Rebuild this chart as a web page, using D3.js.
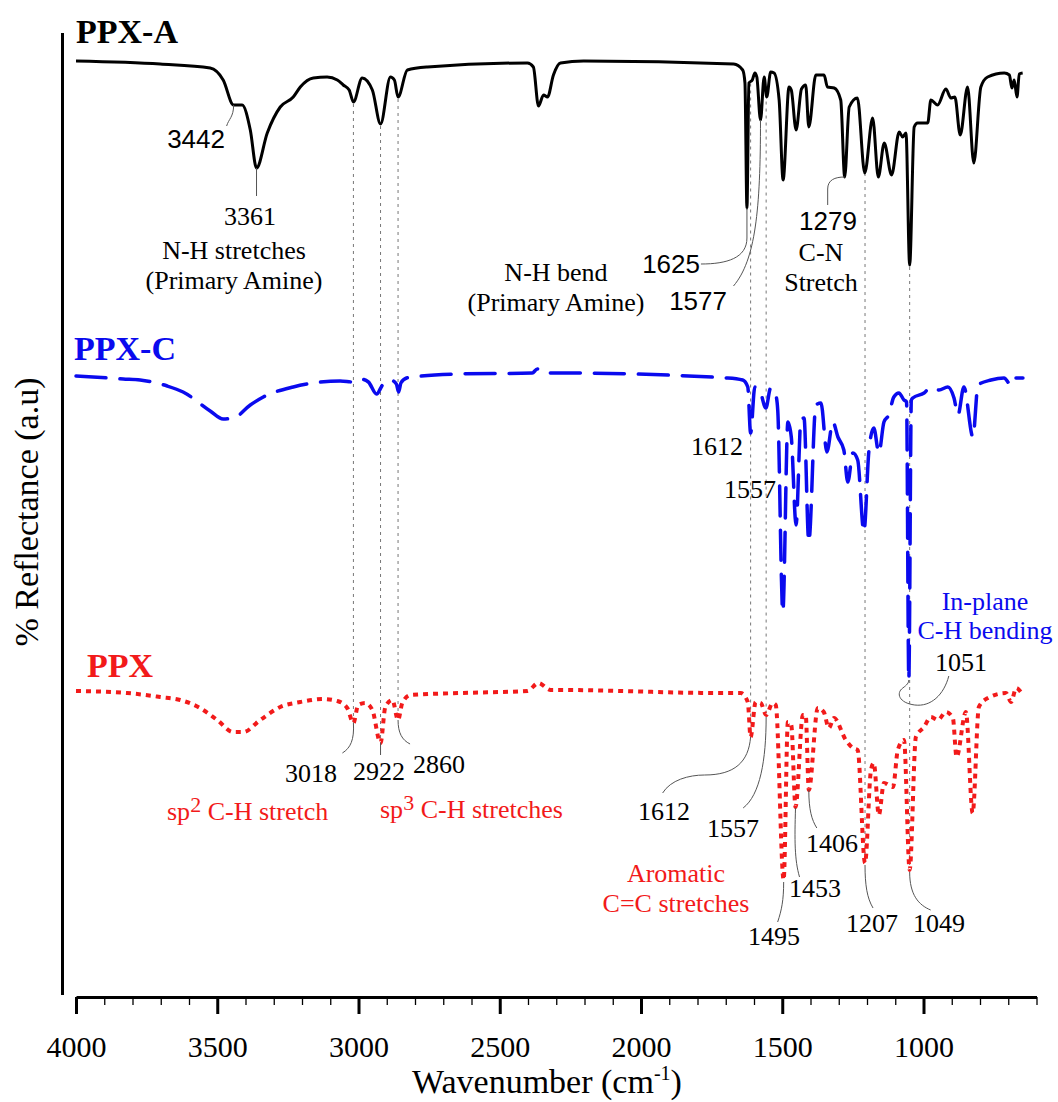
<!DOCTYPE html>
<html>
<head>
<meta charset="utf-8">
<script src="https://cdn.jsdelivr.net/npm/d3@7"></script>
<style>
  body { margin: 0; background: #fff; }
  svg { display: block; }
</style>
</head>
<body>
<svg id="chart" width="1058" height="1102"></svg>
<script>
// ---------------- DATA ----------------
const seriesNames = ["PPX-A", "PPX-C", "PPX"];

const ppxA_wn = [4000,3702,3525,3479,3442,3412,3383,3361,3323,3277,3231,3206,3160,3111,3075,3054,3033,3018,2987,2951,2922,2887,2873,2860,2827,2756,2402,2381,2363,2345,2331,2310,2285,2203,1672,1640,1632,1625,1618,1606,1597,1590,1577,1564,1555,1541,1529,1511,1497,1476,1468,1451,1432,1417,1406,1381,1352,1340,1316,1293,1279,1263,1234,1208,1180,1160,1139,1113,1086,1074,1062,1049,1033,1021,985,974,950,921,903,889,870,844,822,797,773,714,696,687,679,669,661,649];
const ppxA_val = [936,933,929,917,892,892,867,829,864,890,900,910,919,920,917,912,907,895,919,907,873,920,917,900,927,930,934,930,891,902,900,922,934,936,933,927,914,789,914,917,924,920,877,920,900,925,924,897,817,910,907,867,908,912,870,922,922,910,909,897,820,890,899,824,879,820,854,822,865,860,864,732,870,874,874,897,892,908,899,900,862,910,834,910,920,924,922,909,917,900,923,924];

const ppxC_wn = [4000,3940,3833,3773,3677,3621,3525,3479,3442,3383,3337,3231,3065,3018,2993,2965,2936,2915,2887,2866,2858,2850,2830,2809,2646,2385,2367,2345,2285,1693,1640,1622,1612,1597,1580,1558,1541,1523,1516,1498,1480,1468,1451,1434,1423,1406,1381,1363,1342,1321,1303,1282,1268,1250,1233,1211,1193,1176,1158,1140,1123,1105,1087,1069,1060,1052,1043,1038,998,974,945,914,892,878,857,825,807,761,715,690,680,648];
const ppxC_val = [621,620,618,617,611,605,586,578,579,592,600,610,616,615,618,615,603,612,617,613,605,614,619,620,623,624,628,624,624,619,617,610,564,610,607,589,609,602,587,385,575,560,472,577,579,455,592,594,545,575,560,547,515,544,537,465,547,569,544,575,582,600,604,597,595,317,597,599,604,610,607,610,599,582,610,560,612,617,619,612,619,619];

const ppx_wn = [4000,3819,3702,3631,3561,3500,3444,3408,3348,3277,3206,3125,3075,3040,3018,3001,2976,2951,2922,2905,2880,2860,2845,2816,2639,2402,2363,2320,2285,1729,1647,1622,1612,1594,1576,1557,1534,1523,1495,1480,1468,1453,1427,1417,1406,1374,1353,1335,1317,1275,1250,1233,1207,1186,1176,1158,1140,1108,1091,1069,1049,1027,998,974,949,921,896,883,850,826,804,772,708,690,672,655];
const ppx_val = [306,304,300,297,289,277,265,265,277,290,295,298,296,289,274,292,294,287,254,290,297,277,294,302,304,306,314,307,307,304,304,295,260,295,294,282,294,292,117,275,272,190,282,282,207,289,285,269,279,257,249,247,134,227,234,182,214,210,247,257,127,260,270,280,277,285,279,240,285,184,290,299,304,295,309,305];

const xTickValues = [4000,3500,3000,2500,2000,1500,1000];
const xMinorTicks = d3.range(4000, 599, -100);
const guideWavenumbers = [3018, 2922, 2860, 1612, 1557, 1207, 1049];

// annotation texts (peak labels) : series index, peak wavenumber, label
const peakLabels = [
  {s:0, wn:3442, text:"3442"}, {s:0, wn:3361, text:"3361"},
  {s:0, wn:1625, text:"1625"}, {s:0, wn:1577, text:"1577"}, {s:0, wn:1279, text:"1279"},
  {s:1, wn:1612, text:"1612"}, {s:1, wn:1557, text:"1557"}, {s:1, wn:1052, text:"1051"},
  {s:2, wn:3018, text:"3018"}, {s:2, wn:2922, text:"2922"}, {s:2, wn:2860, text:"2860"},
  {s:2, wn:1612, text:"1612"}, {s:2, wn:1557, text:"1557"}, {s:2, wn:1495, text:"1495"},
  {s:2, wn:1453, text:"1453"}, {s:2, wn:1406, text:"1406"}, {s:2, wn:1207, text:"1207"},
  {s:2, wn:1049, text:"1049"}
];

// ---------------- LAYOUT ----------------
const svg = d3.select("#chart");
svg.append("rect").attr("width",1058).attr("height",1102).attr("fill","#fff");
const serif = "'Liberation Serif','Times New Roman',serif";
const sans = "'Liberation Sans',Arial,sans-serif";

const x = d3.scaleLinear().domain([4000, 600]).range([76, 1036.5]);
const y = d3.scaleLinear().domain([0, 977]).range([997, 20]);

const series = [
  {wn: ppxA_wn, val: ppxA_val, color:"#000000", dash:null, width:3},
  {wn: ppxC_wn, val: ppxC_val, color:"#0a0aee", dash:"30,14", width:3.5},
  {wn: ppx_wn,  val: ppx_val,  color:"#f21a1a", dash:"5,5", width:4}
];

function valueAt(si, w) {
  const s = series[si];
  for (let i = 0; i < s.wn.length - 1; i++) {
    if (s.wn[i] >= w && s.wn[i+1] <= w) {
      const t = (s.wn[i] - w) / (s.wn[i] - s.wn[i+1]);
      return s.val[i] + t * (s.val[i+1] - s.val[i]);
    }
  }
  return s.val[s.val.length-1];
}

// Guide dotted vertical lines
svg.append("g").selectAll("line").data(guideWavenumbers).join("line")
  .attr("x1", d => x(d)).attr("x2", d => x(d))
  .attr("y1", d => y(valueAt(0, d)) + 2)
  .attr("y2", d => y(valueAt(2, d)))
  .attr("stroke", "#777").attr("stroke-width", 1)
  .attr("stroke-dasharray", "3,4");

// Spectra
const line = d3.line().curve(d3.curveMonotoneX);
series.forEach(s => {
  const pts = s.wn.map((w, i) => [x(w), y(s.val[i])]);
  const p = svg.append("path").attr("d", line(pts))
    .attr("fill", "none").attr("stroke", s.color)
    .attr("stroke-width", s.width).attr("stroke-linejoin", "round");
  if (s.dash) p.attr("stroke-dasharray", s.dash).attr("stroke-linecap", s.dash === "5,5" ? "butt" : "round");
});

// Axes
const axisG = svg.append("g").attr("transform", "translate(0,997)");
axisG.append("g").call(d3.axisBottom(x).tickValues(xMinorTicks).tickSize(8).tickFormat(""))
  .call(g => g.select(".domain").remove())
  .call(g => g.selectAll("line").attr("stroke-width", 1.3));
axisG.append("g").call(d3.axisBottom(x).tickValues(xTickValues).tickSize(17).tickSizeOuter(0).tickFormat(d3.format("d")))
  .call(g => g.select(".domain").attr("stroke-width", 3.2))
  .call(g => g.selectAll("line").attr("stroke-width", 3))
  .call(g => g.selectAll("text").attr("y", 60).attr("dy", 0)
      .attr("font-family", serif).attr("font-size", 30).attr("fill", "#000"));

svg.append("line").attr("x1", 62.5).attr("x2", 62.5).attr("y1", 33).attr("y2", 995)
  .attr("stroke", "#000").attr("stroke-width", 3);

// Axis titles
const xt = svg.append("text").attr("x", 547).attr("y", 1093).attr("text-anchor", "middle")
  .attr("font-family", serif).attr("font-size", 34).attr("fill", "#000");
xt.append("tspan").text("Wavenumber (cm");
xt.append("tspan").text("-1").attr("font-size", 20).attr("dy", -13);
xt.append("tspan").text(")").attr("dy", 13);

svg.append("text").attr("transform", "translate(38,512) rotate(-90)").attr("text-anchor", "middle")
  .attr("font-family", serif).attr("font-size", 34).attr("fill", "#000")
  .text("% Reflectance (a.u)");

// Series titles
const titles = [
  {t: seriesNames[0], x: 76, y: 43, c: "#000"},
  {t: seriesNames[1], x: 74, y: 360, c: "#0a0aee"},
  {t: seriesNames[2], x: 87, y: 677, c: "#f21a1a"}
];
titles.forEach(d => svg.append("text").attr("x", d.x).attr("y", d.y)
  .attr("font-family", serif).attr("font-weight", "bold").attr("font-size", 34)
  .attr("fill", d.c).text(d.t));

// Peak label layout: label position, anchor, font, leader end & control
const labelLayout = {
  "0-3442": {lx:225, ly:148, a:"end", f:sans, path:(px,py)=>`M${px},${py} C${px},${py+12} ${px-5},${py+14} ${px-7},${py+21}`},
  "0-3361": {lx:250, ly:225, a:"middle", f:serif, path:(px,py)=>`M${px},${py} L${px},${py+28}`},
  "0-1625": {lx:700, ly:273, a:"end", f:sans, path:(px,py)=>`M${px},${py} L${px},${py+30} C${px},${py+50} ${px-20},${py+56} ${px-46},${py+56}`},
  "0-1577": {lx:727, ly:310, a:"end", f:sans, path:(px,py)=>`M${px},${py} C${px},${py+90} ${px-5},${py+140} ${px-27},${py+166}`},
  "0-1279": {lx:828, ly:230, a:"middle", f:sans, path:(px,py)=>`M${px},${py} C${px-10},${py} ${px-17},${py+3} ${px-17},${py+12} L${px-17},${py+28}`},
  "1-1612": {lx:743, ly:455, a:"end", f:serif, path:null},
  "1-1557": {lx:776, ly:498, a:"end", f:serif, path:null},
  "1-1051": {lx:961, ly:671, a:"middle", f:serif, path:(px,py)=>`M${px+40},${py-4} C${px+35},${py+15} ${px+22},${py+27} ${px+6},${py+25} C${px-10},${py+23} ${px-13},${py+13} ${px-6},${py+8} C${px-2},${py+5} ${px},${py+3} ${px},${py}`},
  "2-3018": {lx:311, ly:782, a:"middle", f:serif, path:(px,py)=>`M${px},${py} C${px+1},${py+17} ${px-3},${py+25} ${px-11},${py+30}`},
  "2-2922": {lx:379, ly:780, a:"middle", f:serif, path:(px,py)=>`M${px},${py} L${px},${py+12}`},
  "2-2860": {lx:439, ly:773, a:"middle", f:serif, path:(px,py)=>`M${px},${py} C${px},${py+13} ${px+4},${py+20} ${px+12},${py+24}`},
  "2-1612": {lx:664, ly:820, a:"middle", f:serif, path:(px,py)=>`M${px},${py} C${px-2},${py+25} ${px-16},${py+38} ${px-46},${py+38} C${px-62},${py+38} ${px-80},${py+43} ${px-88},${py+56}`},
  "2-1557": {lx:733, ly:837, a:"middle", f:serif, path:(px,py)=>`M${px},${py+2} C${px},${py+45} ${px-6},${py+80} ${px-23},${py+93}`},
  "2-1495": {lx:774, ly:945, a:"middle", f:serif, path:(px,py)=>`M${px},${py+2} C${px},${py+20} ${px-2},${py+30} ${px-6},${py+42}`},
  "2-1453": {lx:815, ly:897, a:"middle", f:serif, path:(px,py)=>`M${px},${py+1} C${px-1},${py+33} ${px-1},${py+53} ${px+4},${py+70}`},
  "2-1406": {lx:832, ly:852, a:"middle", f:serif, path:(px,py)=>`M${px},${py} C${px},${py+20} ${px+3},${py+30} ${px+8},${py+38}`},
  "2-1207": {lx:872, ly:932, a:"middle", f:serif, path:(px,py)=>`M${px},${py+2} C${px},${py+22} ${px+2},${py+35} ${px+8},${py+45}`},
  "2-1049": {lx:939, ly:932, a:"middle", f:serif, path:(px,py)=>`M${px},${py+2} C${px},${py+25} ${px+9},${py+35} ${px+21},${py+40}`}
};

const annG = svg.append("g");
peakLabels.forEach(d => {
  const L = labelLayout[d.s + "-" + d.text];
  const px = x(d.wn), py = y(valueAt(d.s, d.wn));
  if (L.path) annG.append("path").attr("d", L.path(px, py))
    .attr("fill", "none").attr("stroke", "#555").attr("stroke-width", 1);
  annG.append("text").attr("x", L.lx).attr("y", L.ly).attr("text-anchor", L.a)
    .attr("font-family", L.f).attr("font-size", 26).attr("fill", "#000")
    .text(d.text);
});

// Group annotations (assignments)
const groupNotes = [
  {lines:["N-H stretches","(Primary Amine)"], x:234, y:259, gap:30, c:"#000"},
  {lines:["N-H bend","(Primary Amine)"], x:556, y:281, gap:30, c:"#000"},
  {lines:["C-N","Stretch"], x:821, y:261, gap:30, c:"#000"},
  {lines:["In-plane","C-H bending"], x:985, y:610, gap:29, c:"#0a0aee"},
  {lines:["Aromatic","C=C stretches"], x:676, y:882, gap:30, c:"#f21a1a"}
];
groupNotes.forEach(g => {
  g.lines.forEach((t, i) => svg.append("text").attr("x", g.x).attr("y", g.y + i * g.gap)
    .attr("text-anchor", "middle").attr("font-family", serif).attr("font-size", 26)
    .attr("fill", g.c).text(t));
});

const sp2 = svg.append("text").attr("x", 167).attr("y", 820).attr("font-family", serif)
  .attr("font-size", 26).attr("fill", "#f21a1a");
sp2.append("tspan").text("sp");
sp2.append("tspan").text("2").attr("dy", -8).attr("font-size", 22);
sp2.append("tspan").text(" C-H stretch").attr("dy", 8);

const sp3 = svg.append("text").attr("x", 380).attr("y", 818).attr("font-family", serif)
  .attr("font-size", 26).attr("fill", "#f21a1a");
sp3.append("tspan").text("sp");
sp3.append("tspan").text("3").attr("dy", -8).attr("font-size", 22);
sp3.append("tspan").text(" C-H stretches").attr("dy", 8);
</script>
</body>
</html>
